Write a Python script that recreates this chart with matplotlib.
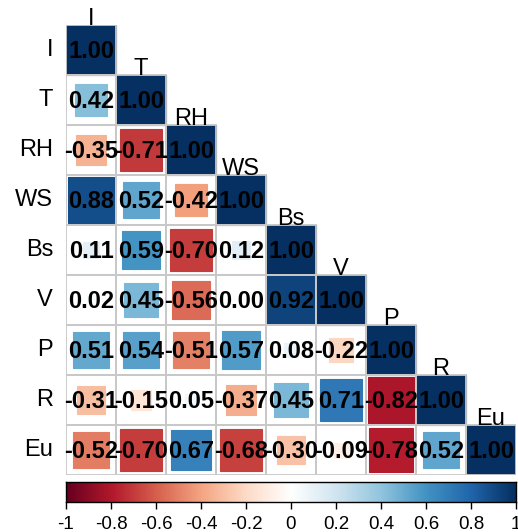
import numpy as np
import matplotlib
matplotlib.use("Agg")
import matplotlib.pyplot as plt
from matplotlib.colors import LinearSegmentedColormap
from matplotlib.patches import Rectangle

plt.rcParams['font.family'] = ['Liberation Sans', 'DejaVu Sans']

variables = ["I", "T", "RH", "WS", "Bs", "V", "P", "R", "Eu"]
row_I = [1.00]
row_T = [0.42, 1.00]
row_RH = [-0.35, -0.71, 1.00]
row_WS = [0.88, 0.52, -0.42, 1.00]
row_Bs = [0.11, 0.59, -0.70, 0.12, 1.00]
row_V = [0.02, 0.45, -0.56, 0.00, 0.92, 1.00]
row_P = [0.51, 0.54, -0.51, 0.57, 0.08, -0.22, 1.00]
row_R = [-0.31, -0.15, 0.05, -0.37, 0.45, 0.71, -0.82, 1.00]
row_Eu = [-0.52, -0.70, 0.67, -0.68, -0.30, -0.09, -0.78, 0.52, 1.00]
rows = [row_I, row_T, row_RH, row_WS, row_Bs, row_V, row_P, row_R, row_Eu]
cbar_ticks = [-1, -0.8, -0.6, -0.4, -0.2, 0, 0.2, 0.4, 0.6, 0.8, 1]
cbar_labels = ["-1", "-0.8", "-0.6", "-0.4", "-0.2", "0", "0.2", "0.4", "0.6", "0.8", "1"]

palette = ["#67001F", "#B2182B", "#D6604D", "#F4A582", "#FDDBC7", "#FFFFFF",
           "#D1E5F0", "#92C5DE", "#4393C3", "#2166AC", "#053061"]
cmap = LinearSegmentedColormap.from_list("corrRdBu", palette, N=200)

W, H = 518, 532
fig = plt.figure(figsize=(W / 100, H / 100), dpi=100)

def px_axes(x0, y0, x1, y1):
    return fig.add_axes([x0 / W, 1 - y1 / H, (x1 - x0) / W, (y1 - y0) / H])

n = len(variables)
ax = px_axes(66, 25, 516, 475)
ax.set_xlim(0, n)
ax.set_ylim(n, 0)
ax.axis("off")

grid_col = "#c8c8c8"
for i, vals in enumerate(rows):
    for j, r in enumerate(vals):
        s = np.sqrt(abs(r))
        col = cmap((r + 1) / 2)
        ax.add_patch(Rectangle((j + 0.5 - s / 2, i + 0.5 - s / 2), s, s,
                               facecolor=col, edgecolor=col, lw=0.8, zorder=1))
        ax.add_patch(Rectangle((j, i), 1, 1, facecolor="none",
                               edgecolor=grid_col, lw=1.3, zorder=2))
        ax.text(j + 0.5, i + 0.52, f"{r:.2f}", ha="center", va="center",
                fontsize=17, fontweight="bold", color="black", zorder=3)

for i, v in enumerate(variables):
    ax.text(-0.26, i + 0.5, v, ha="right", va="center", fontsize=17,
            color="black", clip_on=False)
    ax.text(i + 0.5, i + 0.0, v, ha="center", va="baseline", fontsize=17,
            color="black", clip_on=False, zorder=4)

cax = px_axes(66, 482, 516, 502)
grad = np.linspace(-1, 1, 400).reshape(1, -1)
cax.imshow(grad, cmap=cmap, vmin=-1, vmax=1, aspect="auto",
           extent=[-1, 1, 0, 1])
cax.set_xlim(-1, 1)
cax.set_yticks([])
cax.set_xticks(cbar_ticks)
cax.set_xticklabels(cbar_labels, fontsize=13.5)
cax.tick_params(axis="x", length=5, width=1, pad=5, color="black")
for sp in cax.spines.values():
    sp.set_linewidth(1)
    sp.set_color("black")

fig.savefig("out.png", dpi=100)
